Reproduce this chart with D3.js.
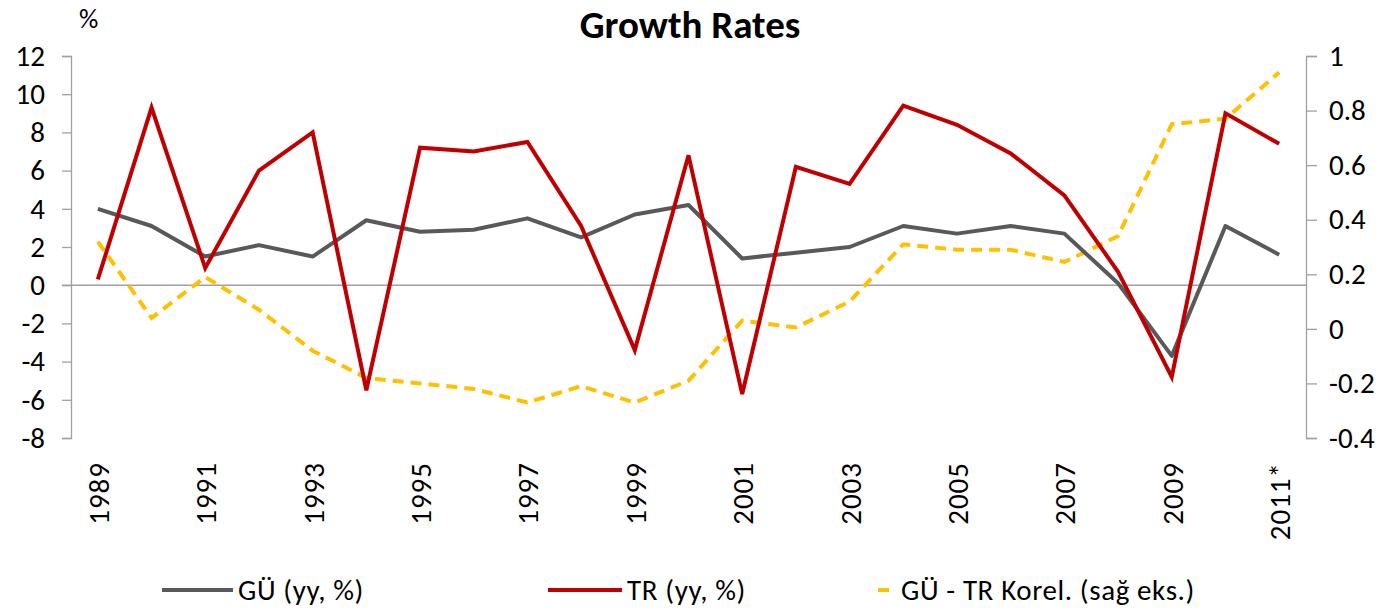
<!DOCTYPE html>
<html>
<head>
<meta charset="utf-8">
<script src="https://cdn.jsdelivr.net/npm/d3@7"></script>
<style>
  body { margin: 0; background: #fff; }
  text { font-family: Calibri, Carlito, Lato, "Open Sans", sans-serif; fill: #000; }
</style>
</head>
<body>
<div id="chart"></div>
<script>
    var svgWidth = 1394;
    var svgHeight = 609;

    var margin = { top: 56, right: 88, bottom: 171, left: 71 };
    var width = svgWidth - margin.left - margin.right;
    var height = svgHeight - margin.top - margin.bottom;

    // data
    var years = ["1989","1990","1991","1992","1993","1994","1995","1996","1997","1998","1999","2000",
                 "2001","2002","2003","2004","2005","2006","2007","2008","2009","2010","2011*"];
    var guValues = [4.0, 3.1, 1.5, 2.1, 1.5, 3.4, 2.8, 2.9, 3.5, 2.5, 3.7, 4.2,
                    1.4, 1.7, 2.0, 3.1, 2.7, 3.1, 2.7, 0.1, -3.7, 3.1, 1.6];
    var trValues = [0.3, 9.3, 0.9, 6.0, 8.0, -5.5, 7.2, 7.0, 7.5, 3.1, -3.4, 6.8,
                    -5.7, 6.2, 5.3, 9.4, 8.4, 6.9, 4.7, 0.7, -4.8, 9.0, 7.4];
    var corrValues = [0.32, 0.04, 0.19, 0.07, -0.08, -0.18, -0.20, -0.22, -0.27, -0.21, -0.27, -0.19,
                      0.03, 0.005, 0.10, 0.31, 0.29, 0.29, 0.245, 0.34, 0.75, 0.77, 0.94];
    var leftTicks = [12, 10, 8, 6, 4, 2, 0, -2, -4, -6, -8];
    var rightTicks = [1, 0.8, 0.6, 0.4, 0.2, 0, -0.2, -0.4];
    var xLabelYears = ["1989","1991","1993","1995","1997","1999","2001","2003","2005","2007","2009","2011*"];

    var svg = d3.select("#chart")
      .append("svg")
      .attr("width", svgWidth)
      .attr("height", svgHeight);

    var chartGroup = svg.append("g")
      .attr("transform", `translate(${margin.left}, ${margin.top})`);

    var xScale = d3.scalePoint()
      .domain(years)
      .range([0, width])
      .padding(0.5);

    var yLeft = d3.scaleLinear().domain([-8, 12]).range([height, 0]);
    var yRight = d3.scaleLinear().domain([-0.4, 1]).range([height, 0]);

    // title and unit
    svg.append("text")
      .attr("x", 690)
      .attr("y", 38)
      .attr("text-anchor", "middle")
      .style("font-size", "39px")
      .style("font-weight", "bold")
      .text("Growth Rates");

    svg.append("text")
      .attr("x", 79)
      .attr("y", 28)
      .style("font-size", "27px")
      .text("%");

    // left axis
    var leftAxis = d3.axisLeft(yLeft).tickValues(leftTicks).tickSize(9).tickPadding(17)
      .tickFormat(d => String(d));
    var yAxisL = chartGroup.append("g").call(leftAxis);

    // right axis
    var rightAxis = d3.axisRight(yRight).tickValues(rightTicks).tickSize(11).tickPadding(12)
      .tickFormat(d => String(+d.toFixed(1)));
    var yAxisR = chartGroup.append("g")
      .attr("transform", `translate(${width}, 0)`)
      .call(rightAxis);

    [yAxisL, yAxisR].forEach(function(ax) {
      ax.select(".domain").attr("stroke", "#a0a0a0").attr("stroke-width", 1.3);
      ax.selectAll(".tick line").attr("stroke", "#a0a0a0").attr("stroke-width", 1.3);
      ax.selectAll(".tick text")
        .style("font-size", "29px")
        .style("font-family", 'Calibri, Carlito, Lato, "Open Sans", sans-serif')
        .attr("fill", "#000");
    });

    // zero line
    chartGroup.append("line")
      .attr("x1", -9)
      .attr("x2", width)
      .attr("y1", yLeft(0))
      .attr("y2", yLeft(0))
      .attr("stroke", "#a0a0a0")
      .attr("stroke-width", 1.5);

    // x labels
    chartGroup.selectAll(".xlabel")
      .data(xLabelYears)
      .enter()
      .append("text")
      .attr("class", "xlabel")
      .attr("text-anchor", "end")
      .attr("transform", d => `translate(${xScale(d) + 11}, ${height + 24}) rotate(-90)`)
      .style("font-size", "29px")
      .style("letter-spacing", "1px")
      .text(d => d);

    // lines
    var leftLine = d3.line()
      .x((d, i) => xScale(years[i]))
      .y(d => yLeft(d));

    var rightLine = d3.line()
      .x((d, i) => xScale(years[i]))
      .y(d => yRight(d));

    chartGroup.append("path")
      .datum(corrValues)
      .attr("d", rightLine)
      .attr("fill", "none")
      .attr("stroke", "#ffc000")
      .attr("stroke-width", 4)
      .attr("stroke-dasharray", "11,7");

    chartGroup.append("path")
      .datum(guValues)
      .attr("d", leftLine)
      .attr("fill", "none")
      .attr("stroke", "#595959")
      .attr("stroke-width", 4)
      .attr("stroke-linejoin", "round");

    chartGroup.append("path")
      .datum(trValues)
      .attr("d", leftLine)
      .attr("fill", "none")
      .attr("stroke", "#c00000")
      .attr("stroke-width", 4);

    // legend
    var legendItems = [
      { label: "GÜ (yy, %)", color: "#595959", dash: null, x1: 162, x2: 233 },
      { label: "TR (yy, %)", color: "#c00000", dash: null, x1: 548, x2: 622 },
      { label: "GÜ - TR Korel. (sağ eks.)", color: "#ffc000", dash: "11,7", x1: 878, x2: 896 }
    ];

    var legend = svg.append("g");
    legendItems.forEach(function(item) {
      legend.append("line")
        .attr("x1", item.x1)
        .attr("x2", item.x2)
        .attr("y1", 590)
        .attr("y2", 590)
        .attr("stroke", item.color)
        .attr("stroke-width", 4)
        .attr("stroke-dasharray", item.dash);
      legend.append("text")
        .attr("x", item.x2 + 5)
        .attr("y", 600)
        .style("font-size", "29px")
        .style("letter-spacing", "0.6px")
        .text(item.label);
    });
</script>
</body>
</html>
